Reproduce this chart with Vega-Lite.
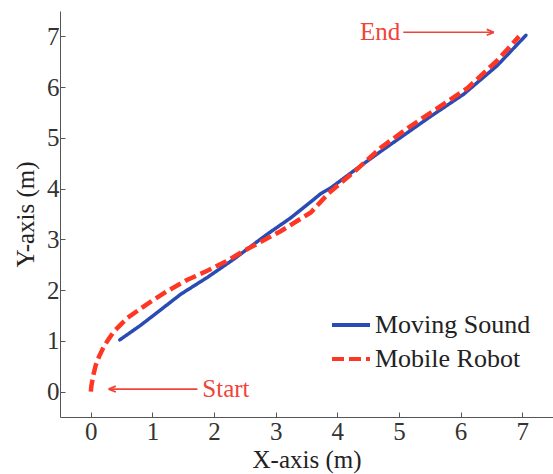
{
  "$schema": "https://vega.github.io/schema/vega-lite/v6.json",
  "width": 493,
  "height": 406,
  "autosize": {"type": "none"},
  "padding": {"left": 60, "top": 11, "right": 0, "bottom": 57},
  "background": "white",
  "config": {
    "view": {"stroke": null},
    "font": "Liberation Serif",
    "axis": {
      "labelFont": "Liberation Serif",
      "titleFont": "Liberation Serif",
      "labelFontSize": 25,
      "titleFontSize": 25,
      "titleFontWeight": "normal",
      "labelColor": "#333333",
      "titleColor": "#222222",
      "domainColor": "#555555",
      "tickColor": "#555555",
      "tickSize": -5,
      "grid": false
    },
    "legend": {
      "labelFont": "Liberation Serif",
      "labelFontSize": 26,
      "labelColor": "#222222"
    },
    "text": {"font": "Liberation Serif"}
  },
  "datasets": {
    "paths": [
      {"path": "Moving Sound", "x": 0.47, "y": 1.02},
      {"path": "Moving Sound", "x": 0.8, "y": 1.3},
      {"path": "Moving Sound", "x": 1.1, "y": 1.58},
      {"path": "Moving Sound", "x": 1.46, "y": 1.92},
      {"path": "Moving Sound", "x": 1.89, "y": 2.25},
      {"path": "Moving Sound", "x": 2.32, "y": 2.61},
      {"path": "Moving Sound", "x": 2.86, "y": 3.1},
      {"path": "Moving Sound", "x": 3.24, "y": 3.42},
      {"path": "Moving Sound", "x": 3.57, "y": 3.74},
      {"path": "Moving Sound", "x": 3.73, "y": 3.9},
      {"path": "Moving Sound", "x": 3.9, "y": 4.02},
      {"path": "Moving Sound", "x": 4.3, "y": 4.38},
      {"path": "Moving Sound", "x": 4.7, "y": 4.73},
      {"path": "Moving Sound", "x": 5.1, "y": 5.07},
      {"path": "Moving Sound", "x": 5.51, "y": 5.42},
      {"path": "Moving Sound", "x": 6.05, "y": 5.86},
      {"path": "Moving Sound", "x": 6.6, "y": 6.43},
      {"path": "Moving Sound", "x": 7.06, "y": 7.02},
      {"path": "Mobile Robot", "x": 0.0, "y": 0.0},
      {"path": "Mobile Robot", "x": 0.01, "y": 0.12},
      {"path": "Mobile Robot", "x": 0.04, "y": 0.32},
      {"path": "Mobile Robot", "x": 0.08, "y": 0.52},
      {"path": "Mobile Robot", "x": 0.13, "y": 0.68},
      {"path": "Mobile Robot", "x": 0.2, "y": 0.86},
      {"path": "Mobile Robot", "x": 0.28, "y": 1.02},
      {"path": "Mobile Robot", "x": 0.37, "y": 1.18},
      {"path": "Mobile Robot", "x": 0.59, "y": 1.45},
      {"path": "Mobile Robot", "x": 0.92, "y": 1.73},
      {"path": "Mobile Robot", "x": 1.24, "y": 1.98},
      {"path": "Mobile Robot", "x": 1.56, "y": 2.2},
      {"path": "Mobile Robot", "x": 1.89, "y": 2.38},
      {"path": "Mobile Robot", "x": 2.2, "y": 2.57},
      {"path": "Mobile Robot", "x": 2.48, "y": 2.77},
      {"path": "Mobile Robot", "x": 3.08, "y": 3.16},
      {"path": "Mobile Robot", "x": 3.57, "y": 3.53},
      {"path": "Mobile Robot", "x": 3.86, "y": 3.91},
      {"path": "Mobile Robot", "x": 4.3, "y": 4.36},
      {"path": "Mobile Robot", "x": 4.7, "y": 4.8},
      {"path": "Mobile Robot", "x": 5.15, "y": 5.2},
      {"path": "Mobile Robot", "x": 5.62, "y": 5.58},
      {"path": "Mobile Robot", "x": 6.11, "y": 5.98},
      {"path": "Mobile Robot", "x": 6.6, "y": 6.53},
      {"path": "Mobile Robot", "x": 6.95, "y": 7.0}
    ],
    "notes": [
      {"label": "Start", "tx": 1.81, "ty": 0.05, "x1": 1.73, "x2": 0.29},
      {"label": "End", "tx": 5.02, "ty": 7.08, "x1": 5.07, "x2": 6.54}
    ]
  },
  "layer": [
    {
      "data": {"name": "paths"},
      "transform": [{"filter": "datum.path === 'Moving Sound'"}],
      "mark": {"type": "line", "strokeWidth": 3.5, "strokeCap": "round"},
      "encoding": {
        "x": {"field": "x", "type": "quantitative", "scale": {"domain": [-0.5, 7.5], "nice": false},
          "axis": {"title": "X-axis (m)", "values": [0, 1, 2, 3, 4, 5, 6, 7], "format": "d",
            "labelFont": "Liberation Serif", "titleFont": "Liberation Serif", "labelPadding": 7, "titlePadding": 3}},
        "y": {"field": "y", "type": "quantitative", "scale": {"domain": [-0.5, 7.5], "nice": false},
          "axis": {"title": "Y-axis (m)", "values": [0, 1, 2, 3, 4, 5, 6, 7], "format": "d",
            "labelFont": "Liberation Serif", "titleFont": "Liberation Serif", "labelPadding": 6, "titlePadding": 8}},
        "color": {"field": "path", "type": "nominal",
          "scale": {"domain": ["Moving Sound", "Mobile Robot"], "range": ["#2a4bb3", "#ff3624"]},
          "legend": {"title": null, "orient": "none", "legendX": 270, "legendY": 293, "symbolType": "stroke",
            "labelFont": "Liberation Serif", "labelFontSize": 26, "labelOffset": 3,
            "symbolSize": 1444, "symbolStrokeWidth": 4, "rowPadding": -2, "padding": 0}},
        "strokeDash": {"field": "path", "type": "nominal",
          "scale": {"domain": ["Moving Sound", "Mobile Robot"], "range": [[1, 0], [12, 5]]},
          "legend": {"title": null, "orient": "none", "legendX": 270, "legendY": 293, "symbolType": "stroke",
            "labelFont": "Liberation Serif", "labelFontSize": 26, "labelOffset": 3,
            "symbolSize": 1444, "symbolStrokeWidth": 4, "rowPadding": -2, "padding": 0}},
        "order": {"field": "x", "type": "quantitative"}
      }
    },
    {
      "data": {"name": "paths"},
      "transform": [{"filter": "datum.path === 'Mobile Robot'"}],
      "mark": {"type": "line", "strokeWidth": 4.5},
      "encoding": {
        "x": {"field": "x", "type": "quantitative"},
        "y": {"field": "y", "type": "quantitative"},
        "color": {"field": "path", "type": "nominal"},
        "strokeDash": {"field": "path", "type": "nominal"},
        "order": {"field": "x", "type": "quantitative"}
      }
    },
    {
      "data": {"name": "notes"},
      "mark": {"type": "rule", "color": "#f04438", "strokeWidth": 1.6},
      "encoding": {
        "x": {"field": "x1", "type": "quantitative"},
        "x2": {"field": "x2"},
        "y": {"field": "ty", "type": "quantitative"}
      }
    },
    {
      "data": {"name": "notes"},
      "transform": [{"filter": "datum.label === 'Start'"}],
      "mark": {"type": "point", "shape": "M0,0L1.7,-0.7M0,0L1.7,0.7", "filled": false, "size": 70, "color": "#f04438", "strokeWidth": 1.8, "opacity": 1},
      "encoding": {
        "x": {"field": "x2", "type": "quantitative"},
        "y": {"field": "ty", "type": "quantitative"}
      }
    },
    {
      "data": {"name": "notes"},
      "transform": [{"filter": "datum.label === 'End'"}],
      "mark": {"type": "point", "shape": "M0,0L-1.7,-0.7M0,0L-1.7,0.7", "filled": false, "size": 70, "color": "#f04438", "strokeWidth": 1.8, "opacity": 1},
      "encoding": {
        "x": {"field": "x2", "type": "quantitative"},
        "y": {"field": "ty", "type": "quantitative"}
      }
    },
    {
      "data": {"name": "notes"},
      "transform": [{"filter": "datum.label === 'Start'"}],
      "mark": {"type": "text", "align": "left", "baseline": "middle", "fontSize": 25, "font": "Liberation Serif", "color": "#f04438"},
      "encoding": {
        "x": {"field": "tx", "type": "quantitative"},
        "y": {"field": "ty", "type": "quantitative"},
        "text": {"field": "label"}
      }
    },
    {
      "data": {"name": "notes"},
      "transform": [{"filter": "datum.label === 'End'"}],
      "mark": {"type": "text", "align": "right", "baseline": "middle", "fontSize": 25, "font": "Liberation Serif", "color": "#f04438"},
      "encoding": {
        "x": {"field": "tx", "type": "quantitative"},
        "y": {"field": "ty", "type": "quantitative"},
        "text": {"field": "label"}
      }
    }
  ]
}
